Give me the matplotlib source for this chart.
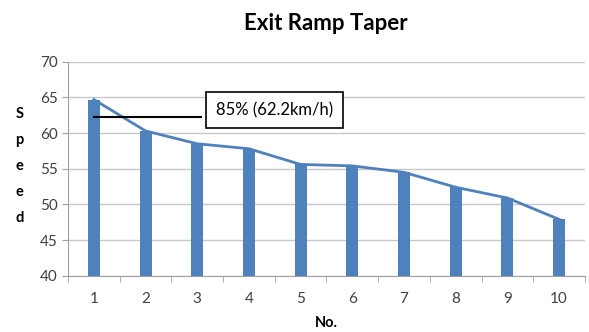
import numpy as np
import matplotlib
matplotlib.use("Agg")
import matplotlib.pyplot as plt

# values
nums = [1, 2, 3, 4, 5, 6, 7, 8, 9, 10]
speeds = [64.7, 60.3, 58.5, 57.8, 55.6, 55.4, 54.5, 52.4, 50.9, 47.9]
p85 = 62.2
p85_label = "85% (62.2km/h)"

plt.rcParams['font.family'] = ['Lato', 'DejaVu Sans']

fig = plt.figure(figsize=(5.89, 3.32), dpi=100)
ax = fig.add_axes([0.1155, 0.1696, 0.8775, 0.6444])

blue = '#4F81BD'
x = np.arange(len(nums))
ax.bar(x, [s - 40 for s in speeds], bottom=40, width=0.23, color=blue, zorder=3)
ax.plot(x, speeds, color=blue, linewidth=2, zorder=4)

# 85th percentile marker line and label box
ax.plot([0, 2.07], [p85, p85], color='black', linewidth=1.5, zorder=5)
ax.text(3.5, 63.2, p85_label, ha='center', va='center', fontsize=12, zorder=6,
        bbox=dict(boxstyle='square,pad=0.6', facecolor='white', edgecolor='black', linewidth=1.2))

ax.set_xlim(-0.5, len(nums) - 0.5)
ax.set_ylim(40, 70)
ax.set_yticks(np.arange(40, 71, 5))
ax.set_xticks(x)
ax.set_xticklabels([str(n) for n in nums])
ax.set_xticks(np.arange(-0.5, len(nums)), minor=True)
ax.tick_params(axis='x', which='major', length=0, pad=12, labelsize=11)
ax.tick_params(axis='x', which='minor', length=4, color='#a0a0a0', direction='out')
ax.tick_params(axis='y', length=4, color='#a0a0a0', labelsize=11)
for lbl in ax.get_xticklabels() + ax.get_yticklabels():
    lbl.set_color('#404040')

ax.grid(axis='y', color='#c8c8c8', linewidth=1, zorder=0)
for side in ['top', 'right']:
    ax.spines[side].set_visible(False)
ax.spines['left'].set_color('#a0a0a0')
ax.spines['bottom'].set_color('#a0a0a0')

ax.set_xlabel('No.', fontsize=10.5, fontweight='bold', labelpad=7)
fig.text(0.033, 0.5, 'S\np\ne\ne\nd', ha='center', va='center', fontsize=10.5,
         fontweight='bold', linespacing=2.1)
fig.text(0.553, 0.93, 'Exit Ramp Taper', ha='center', va='center', fontsize=16, fontweight='bold')

fig.savefig('out.png', dpi=100)
